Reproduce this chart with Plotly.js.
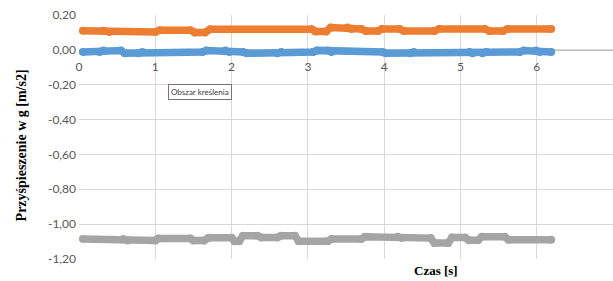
<!DOCTYPE html>
<html>
<head>
<meta charset="utf-8">
<script src="https://cdn.plot.ly/plotly-3.0.1.min.js"></script>
<style>html,body{margin:0;padding:0;background:#fff;}#chart{width:613px;height:281px;}</style>
</head>
<body>
<div id="chart"></div>
<script>
// Orange series (step breakpoints)
const orangeT = [0.05,0.32,0.40,1.00,1.06,1.46,1.52,1.65,1.72,3.05,3.10,3.24,3.30,3.52,3.57,3.70,3.76,3.92,3.97,4.20,4.26,4.66,4.72,5.32,5.38,5.56,5.62,6.19];
const orangeV = [0.110,0.110,0.102,0.102,0.113,0.113,0.100,0.100,0.118,0.118,0.105,0.105,0.128,0.128,0.120,0.120,0.108,0.108,0.120,0.120,0.108,0.108,0.120,0.120,0.108,0.108,0.120,0.120];

// Blue series
const blueT = [0.05,0.27,0.32,0.55,0.60,0.78,0.83,1.62,1.67,1.92,1.97,2.15,2.20,2.60,2.65,3.07,3.12,3.26,3.31,3.98,4.02,4.34,4.39,5.12,5.16,5.29,5.34,5.78,5.83,5.99,6.04,6.19];
const blueV = [-0.012,-0.012,-0.004,-0.004,-0.020,-0.020,-0.012,-0.012,-0.004,-0.004,-0.012,-0.012,-0.020,-0.020,-0.012,-0.012,-0.003,-0.003,-0.012,-0.012,-0.020,-0.020,-0.012,-0.012,-0.020,-0.020,-0.012,-0.012,-0.004,-0.004,-0.012,-0.012];

// Gray series
const grayT = [0.05,0.58,0.64,1.00,1.04,1.46,1.50,1.64,1.70,2.00,2.04,2.10,2.15,2.34,2.39,2.60,2.65,2.83,2.88,3.26,3.31,3.70,3.75,4.18,4.23,4.61,4.66,4.84,4.89,5.06,5.11,5.23,5.28,5.58,5.63,6.19];
const grayV = [-1.085,-1.085,-1.094,-1.094,-1.083,-1.083,-1.094,-1.094,-1.078,-1.078,-1.098,-1.098,-1.066,-1.066,-1.077,-1.077,-1.066,-1.066,-1.098,-1.098,-1.085,-1.085,-1.072,-1.072,-1.080,-1.080,-1.108,-1.108,-1.077,-1.077,-1.093,-1.093,-1.072,-1.072,-1.089,-1.089];

// Axis ticks
const xTicks = [0,1,2,3,4,5,6,7];
const xTickText = ["0","1","2","3","4","5","6","7"];
const yTicks = [0.2,0,-0.2,-0.4,-0.6,-0.8,-1.0,-1.2];
const yTickText = ["0,20","0,00","-0,20","-0,40","-0,60","-0,80","-1,00","-1,20"];

const xTitle = "Czas [s]";
const yTitle = "Przyśpieszenie w g [m/s2]";
const tipText = "Obszar kreślenia";

function series(t, v, color) {
  return {
    x: t, y: v, type: 'scatter', mode: 'lines+markers',
    line: {color: color, width: 7.5},
    marker: {color: color, size: 8},
    hoverinfo: 'skip', showlegend: false
  };
}

const data = [
  series(orangeT, orangeV, '#ED7D31'),
  series(blueT, blueV, '#5B9BD5'),
  series(grayT, grayV, '#A5A5A5')
];

const yMin = -1.2, yMax = 0.2;
const layout = {
  width: 613, height: 281,
  margin: {l: 79, r: 0, t: 15, b: 22},
  paper_bgcolor: '#ffffff', plot_bgcolor: '#ffffff',
  font: {family: 'Lato, "Open Sans", sans-serif', size: 12, color: '#595959'},
  xaxis: {
    range: [0, 7], tickvals: xTicks, ticktext: xTickText,
    showgrid: true, gridcolor: '#d9d9d9', gridwidth: 1,
    zeroline: false, showline: true, linecolor: '#bfbfbf', linewidth: 1,
    anchor: 'free', position: (0 - yMin) / (yMax - yMin),
    layer: 'below traces', ticklabelstandoff: 6,
    ticks: '', tickfont: {size: 12, color: '#595959'}, fixedrange: true
  },
  yaxis: {
    range: [yMin, yMax], tickvals: yTicks, ticktext: yTickText,
    showgrid: true, gridcolor: '#d9d9d9', gridwidth: 1,
    zeroline: false, showline: false, ticks: '', layer: 'below traces',
    ticklabelstandoff: 2,
    tickfont: {size: 12, color: '#595959'}, fixedrange: true
  },
  annotations: [
    {text: '<b>' + xTitle + '</b>', xref: 'paper', yref: 'paper', x: 0.668, y: -0.049,
     xanchor: 'center', yanchor: 'middle', showarrow: false,
     font: {family: '"Liberation Serif", "Times New Roman", serif', size: 13, color: '#000000'}},
    {text: '<b>' + yTitle + '</b>', xref: 'paper', yref: 'paper', x: -0.107, y: 0.465,
     xanchor: 'center', yanchor: 'middle', textangle: -90, showarrow: false,
     font: {family: '"Liberation Serif", "Times New Roman", serif', size: 14, color: '#000000'}},
    {text: tipText, xref: 'paper', yref: 'paper', x: 0.2257, y: 0.684,
     xanchor: 'center', yanchor: 'middle', showarrow: false,
     bgcolor: '#ffffff', bordercolor: '#767676', borderwidth: 1, borderpad: 2,
     font: {family: 'Lato, "Open Sans", sans-serif', size: 8, color: '#404040'}}
  ]
};

Plotly.newPlot('chart', data, layout, {displayModeBar: false, staticPlot: true});
</script>
</body>
</html>
